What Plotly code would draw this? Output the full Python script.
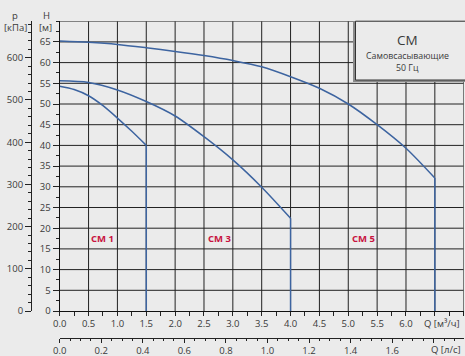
import plotly.graph_objects as go

# ---- data ----
q_cm1 = [0, 0.25, 0.5, 0.75, 1.0, 1.25, 1.5]
h_cm1 = [54.3, 53.5, 52.0, 49.6, 46.6, 43.4, 40.0]
q_cm3 = [0, 0.5, 1.0, 1.5, 2.0, 2.5, 3.0, 3.5, 4.0]
h_cm3 = [55.6, 55.2, 53.4, 50.6, 47.1, 42.1, 36.5, 29.9, 22.4]
q_cm5 = [0, 0.5, 1.0, 1.5, 2.0, 2.5, 3.0, 3.5, 4.0, 4.5, 5.0, 5.5, 6.0, 6.5]
h_cm5 = [65.2, 64.9, 64.4, 63.6, 62.7, 61.7, 60.5, 59.0, 56.6, 53.8, 50.0, 45.0, 39.3, 32.1]
series_names = ["CM 1", "CM 3", "CM 5"]
label_pos_q = [0.75, 2.77, 5.27]
label_pos_h = [17.6, 17.6, 17.6]

q_ticks = [0, 0.5, 1.0, 1.5, 2.0, 2.5, 3.0, 3.5, 4.0, 4.5, 5.0, 5.5, 6.0, 6.5, 7.0]
q_ticktext = ["0.0", "0.5", "1.0", "1.5", "2.0", "2.5", "3.0", "3.5", "4.0", "4.5", "5.0", "5.5", "6.0", "", ""]
h_ticks = [0, 5, 10, 15, 20, 25, 30, 35, 40, 45, 50, 55, 60, 65]
h_grid = [5, 10, 15, 20, 25, 30, 35, 40, 45, 50, 55, 60, 65, 70]
p_ticks = [0, 100, 200, 300, 400, 500, 600]
ls_ticks = [0, 0.2, 0.4, 0.6, 0.8, 1.0, 1.2, 1.4, 1.6, 1.8]
ls_ticktext = ["0.0", "0.2", "0.4", "0.6", "0.8", "1.0", "1.2", "1.4", "1.6", ""]

Q_MAX = 7.0
H_MAX = 70.0
KPA_PER_M = 9.81
M3H_PER_LS = 3.6

W, H = 465, 356
BG = "#ebebeb"
TXT = "#3a3a3a"
CURVE = "#3d64a0"
RED = "#c8143f"
GRID = "#222222"
FONT = "Open Sans"

# pixel layout helpers (paper coords, margins 0)
x0px, x1px = 59.7, 463.7
ybot, ytop = 311.0, 21.2
def px(x):
    return x / W
def py(y):
    return (H - y) / H

xdom = [px(x0px), px(x1px)]
ydom = [py(ybot), py(ytop)]

fig = go.Figure()

# grid lines as line traces built from the tick arrays
gx, gy = [], []
for xv in q_ticks[1:]:
    gx += [xv, xv, None]
    gy += [0, H_MAX, None]
for yv in h_grid:
    gx += [0, Q_MAX, None]
    gy += [yv, yv, None]
fig.add_trace(go.Scatter(x=gx, y=gy, mode="lines", line=dict(color=GRID, width=1),
                         hoverinfo="skip", showlegend=False, cliponaxis=False))

for q, h in [(q_cm1, h_cm1), (q_cm3, h_cm3), (q_cm5, h_cm5)]:
    fig.add_trace(go.Scatter(x=q, y=h, mode="lines",
                             line=dict(color=CURVE, width=1.5, shape="spline", smoothing=0.8),
                             hoverinfo="skip", showlegend=False))
    fig.add_trace(go.Scatter(x=[q[-1], q[-1]], y=[h[-1], 0], mode="lines",
                             line=dict(color=CURVE, width=1.5),
                             hoverinfo="skip", showlegend=False))

for name, xq, yh in zip(series_names, label_pos_q, label_pos_h):
    fig.add_annotation(x=xq, y=yh, xref="x", yref="y", text="<b>" + name + "</b>",
                       xanchor="center", yanchor="middle",
                       showarrow=False, font=dict(family=FONT, size=9.5, color=RED))

tickfont = dict(family=FONT, size=9.5, color=TXT)

fig.update_layout(
    width=W, height=H,
    margin=dict(l=0, r=0, t=0, b=0, autoexpand=False),
    paper_bgcolor=BG, plot_bgcolor="rgba(0,0,0,0)",
    xaxis=dict(domain=xdom, range=[0, Q_MAX], anchor="y",
               tickmode="array", tickvals=q_ticks, ticktext=q_ticktext,
               showgrid=False, zeroline=False,
               showline=True, linecolor="#111", linewidth=1,
               ticks="outside", ticklen=4, tickcolor="#222", tickfont=tickfont,
               minor=dict(dtick=0.25, tick0=0, ticks="outside", ticklen=4, tickcolor="#222", showgrid=False)),
    yaxis=dict(domain=ydom, range=[0, H_MAX], anchor="x",
               tickmode="array", tickvals=h_ticks,
               showgrid=False, zeroline=False,
               showline=True, linecolor="#111", linewidth=1.2,
               ticks="outside", ticklen=6, tickcolor="#222", tickfont=tickfont,
               minor=dict(dtick=2.5, tick0=0, ticks="outside", ticklen=3, tickcolor="#222", showgrid=False)),
    yaxis2=dict(domain=ydom, anchor="free", position=px(31), side="left",
                range=[0, H_MAX * KPA_PER_M], tickmode="array", tickvals=p_ticks,
                showgrid=False, zeroline=False,
                showline=True, linecolor="#222", linewidth=1,
                ticks="outside", ticklen=6, tickcolor="#222", tickfont=tickfont,
                minor=dict(dtick=20, tick0=0, ticks="outside", ticklen=3, tickcolor="#222")),
    xaxis2=dict(domain=xdom, anchor="free", position=py(337.7), side="bottom",
                range=[0, Q_MAX / M3H_PER_LS], tickmode="array", tickvals=ls_ticks, ticktext=ls_ticktext,
                showgrid=False, zeroline=False,
                showline=True, linecolor="#222", linewidth=1,
                ticks="outside", ticklen=4, tickcolor="#222", tickfont=tickfont,
                minor=dict(dtick=0.05, tick0=0, ticks="outside", ticklen=2, tickcolor="#222")),
)
# invisible trace to activate secondary axes
fig.add_trace(go.Scatter(x=[0], y=[0], xaxis="x2", yaxis="y2", mode="markers",
                         marker=dict(opacity=0), hoverinfo="skip", showlegend=False))

# info box with shadow
fig.add_shape(type="rect", xref="paper", yref="paper",
              x0=px(353), x1=px(465), y0=py(82), y1=py(ytop),
              fillcolor="#8a8a8a", line=dict(width=0), layer="above")
fig.add_shape(type="rect", xref="paper", yref="paper",
              x0=px(355.5), x1=px(466), y0=py(80), y1=py(ytop),
              fillcolor=BG, line=dict(color="#333", width=1), layer="above")

texts = [("CM", 407, 40.5, 13.5), ("Самовсасывающие", 407, 55.5, 8.8), ("50 Гц", 407, 67.5, 8.8),
         ("p", 15, 15, 9.5), ("[кПа]", 15, 27.5, 9.5), ("H", 46, 15.5, 9.5), ("[м]", 45, 27.5, 9.5),
         ("Q [м³/ч]", 442, 323, 9.5), ("Q [л/с]", 446, 349, 9.5)]
for txt, xx, yy, fs in texts:
    fig.add_annotation(x=px(xx), y=py(yy), xref="paper", yref="paper", text=txt,
                       xanchor="center", yanchor="middle",
                       showarrow=False, font=dict(family=FONT, size=fs, color=TXT))

fig.write_html("out.html")
